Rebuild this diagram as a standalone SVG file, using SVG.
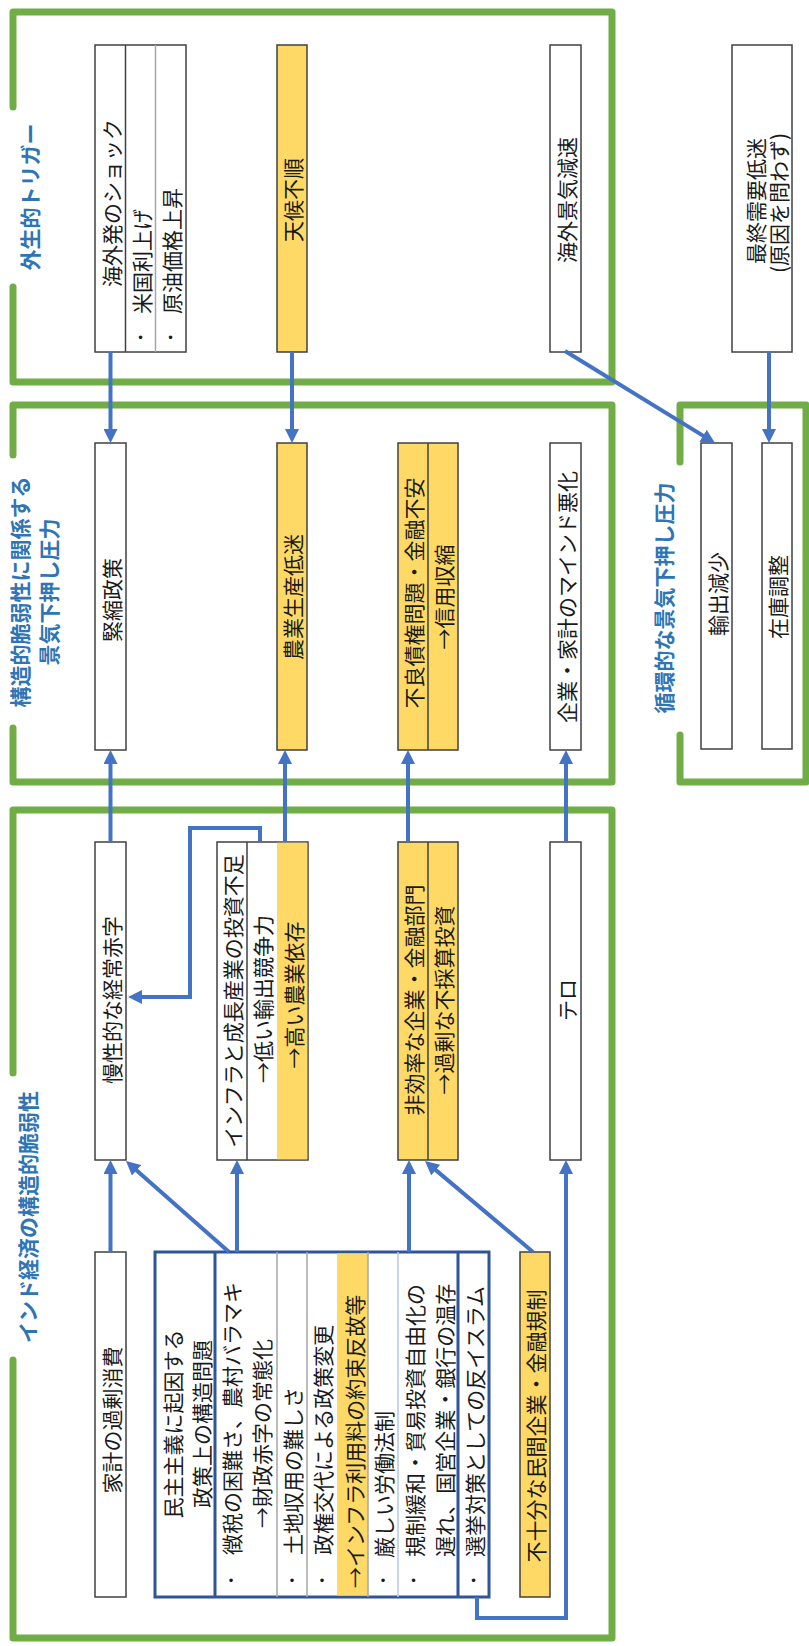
<svg xmlns="http://www.w3.org/2000/svg" width="809" height="1646" viewBox="0 0 809 1646">
<style>
.frame{fill:none;stroke:#70AD47;stroke-width:7;stroke-linejoin:round;stroke-linecap:round}
.lbl{font-family:"Noto Sans CJK JP","Noto Sans",sans-serif;font-size:21px;font-weight:bold;fill:#2E75B6;text-anchor:middle;dominant-baseline:central}
.t{font-family:"Noto Sans CJK JP","Noto Sans",sans-serif;font-size:21px;fill:#1a1a1a;text-anchor:middle;dominant-baseline:central}
.s{text-anchor:start}
.b{font-family:"Liberation Sans",sans-serif;font-size:13px;fill:#1a1a1a;text-anchor:middle;dominant-baseline:central}
.box{fill:#fff;stroke:#404040;stroke-width:1.5}
.yel{fill:#FFD966}
.dv{stroke:#404040;stroke-width:1.5}
.dg{stroke:#A6A6A6;stroke-width:1.5}
.db{stroke:#2F5597;stroke-width:3}
.dl{stroke:#B4C7E7;stroke-width:1.5}
.pbox{fill:#fff;stroke:#2F5597;stroke-width:3}
.c{fill:none;stroke:#4472C4;stroke-width:4}
.ca{fill:none;stroke:#4472C4;stroke-width:4;marker-end:url(#ah)}
</style>
<defs>
<marker id="ah" viewBox="0 0 14 14" refX="8" refY="7" markerWidth="14" markerHeight="14" orient="auto" markerUnits="userSpaceOnUse">
<path d="M0,0 L14,7 L0,14 z" fill="#4472C4"/>
</marker>
</defs>
<rect width="809" height="1646" fill="#fff"/>

<g id="frames">
<g id="frame-exogenous">
<path class="frame" d="M13,107 L13,12 L612,12 L612,382 L13,382 L13,287"/>
<text class="lbl" transform="translate(29,197) rotate(-90)">外生的トリガー</text>
</g>
<g id="frame-structural-pressure">
<path class="frame" d="M13,455 L13,405 L612,405 L612,782 L13,782 L13,728"/>
<text class="lbl" transform="translate(19,592) rotate(-90)">構造的脆弱性に関係する</text>
<text class="lbl" transform="translate(48,592) rotate(-90)">景気下押し圧力</text>
</g>
<g id="frame-india">
<path class="frame" d="M13,1073 L13,810 L612,810 L612,1638 L13,1638 L13,1360"/>
<text class="lbl" transform="translate(27,1217) rotate(-90)">インド経済の構造的脆弱性</text>
</g>
<g id="frame-cyclical">
<path class="frame" d="M680,462 L680,405 L806,405 L806,782 L680,782 L680,735"/>
<text class="lbl" transform="translate(663,598) rotate(-90)">循環的な景気下押し圧力</text>
</g>
</g>

<g id="n-overseas-shock">
<rect class="box" x="95" y="45" width="91" height="307"/>
<line class="dv" x1="125.5" y1="45" x2="125.5" y2="352"/>
<line class="dg" x1="155.5" y1="45" x2="155.5" y2="352"/>
<text class="t" transform="translate(110.5,203) rotate(-90)">海外発のショック</text>
<text class="b" x="140.5" y="337">•</text>
<text class="t s" transform="translate(140.5,314) rotate(-90)">米国利上げ</text>
<text class="b" x="170.5" y="337">•</text>
<text class="t s" transform="translate(170.5,314) rotate(-90)">原油価格上昇</text>
</g>
<g id="n-weather">
<rect class="box yel" x="277" y="45" width="30" height="307"/>
<text class="t" transform="translate(292,200) rotate(-90)">天候不順</text>
</g>
<g id="n-overseas-slowdown">
<rect class="box" x="550" y="45" width="31" height="307"/>
<text class="t" transform="translate(565.5,200) rotate(-90)">海外景気減速</text>
</g>
<g id="n-final-demand">
<rect class="box" x="732" y="45" width="60" height="307"/>
<text class="t" transform="translate(755,201) rotate(-90)">最終需要低迷</text>
<text class="t" transform="translate(778,203) rotate(-90)">(原因を問わず)</text>
</g>

<g id="n-tightening">
<rect class="box" x="95" y="443" width="31" height="307"/>
<text class="t" transform="translate(110.5,600) rotate(-90)">緊縮政策</text>
</g>
<g id="n-agri-slump">
<rect class="box yel" x="277" y="443" width="30" height="307"/>
<text class="t" transform="translate(292,597) rotate(-90)">農業生産低迷</text>
</g>
<g id="n-bad-debt">
<rect class="box yel" x="398" y="443" width="60" height="307"/>
<line class="dv" x1="428" y1="443" x2="428" y2="750"/>
<text class="t" transform="translate(413,593) rotate(-90)">不良債権問題・金融不安</text>
<text class="t" transform="translate(443,597) rotate(-90)">→信用収縮</text>
</g>
<g id="n-sentiment">
<rect class="box" x="550" y="443" width="31" height="307"/>
<text class="t" transform="translate(565.5,597) rotate(-90)">企業・家計のマインド悪化</text>
</g>

<g id="n-export-decline">
<rect class="box" x="701" y="443" width="31" height="306"/>
<text class="t" transform="translate(716.5,594) rotate(-90)">輸出減少</text>
</g>
<g id="n-inventory">
<rect class="box" x="762" y="443" width="30" height="306"/>
<text class="t" transform="translate(777,597) rotate(-90)">在庫調整</text>
</g>

<g id="n-current-deficit">
<rect class="box" x="95" y="842" width="31" height="318"/>
<text class="t" transform="translate(110.5,1000) rotate(-90)">慢性的な経常赤字</text>
</g>
<g id="n-infra">
<rect class="box" x="217" y="842" width="91" height="318"/>
<rect x="277" y="842.75" width="30.25" height="316.5" fill="#FFD966"/>
<line class="dv" x1="247" y1="842" x2="247" y2="1160"/>
<text class="t" transform="translate(232,1001) rotate(-90)">インフラと成長産業の投資不足</text>
<text class="t" transform="translate(262,999) rotate(-90)">→低い輸出競争力</text>
<text class="t" transform="translate(292.5,995) rotate(-90)">→高い農業依存</text>
</g>
<g id="n-inefficient">
<rect class="box yel" x="398" y="842" width="60" height="318"/>
<line class="dv" x1="428" y1="842" x2="428" y2="1160"/>
<text class="t" transform="translate(413,1000) rotate(-90)">非効率な企業・金融部門</text>
<text class="t" transform="translate(443,1000) rotate(-90)">→過剰な不採算投資</text>
</g>
<g id="n-terror">
<rect class="box" x="550" y="842" width="31" height="318"/>
<text class="t" transform="translate(565.5,1000) rotate(-90)">テロ</text>
</g>

<g id="n-household">
<rect class="box" x="95" y="1252" width="31" height="345"/>
<text class="t" transform="translate(110.5,1420) rotate(-90)">家計の過剰消費</text>
</g>
<g id="n-democracy">
<rect class="pbox" x="155" y="1252" width="334" height="345"/>
<rect x="337" y="1253.5" width="31" height="342" fill="#FFD966"/>
<line class="db" x1="215" y1="1252" x2="215" y2="1597"/>
<line class="dg" x1="277" y1="1252" x2="277" y2="1597"/>
<line class="dg" x1="307" y1="1252" x2="307" y2="1597"/>
<line class="dg" x1="368" y1="1252" x2="368" y2="1597"/>
<line class="dl" x1="398" y1="1252" x2="398" y2="1597"/>
<line class="db" x1="458" y1="1252" x2="458" y2="1597"/>
<text class="t" transform="translate(171.5,1424) rotate(-90)">民主主義に起因する</text>
<text class="t" transform="translate(200.5,1424) rotate(-90)">政策上の構造問題</text>
<text class="b" x="231" y="1580">•</text>
<text class="t s" transform="translate(231,1555) rotate(-90)">徴税の困難さ、農村バラマキ</text>
<text class="t s" transform="translate(260.5,1528) rotate(-90)">→財政赤字の常態化</text>
<text class="b" x="292" y="1580">•</text>
<text class="t s" transform="translate(292,1555) rotate(-90)">土地収用の難しさ</text>
<text class="b" x="322" y="1580">•</text>
<text class="t s" transform="translate(322,1555) rotate(-90)">政権交代による政策変更</text>
<text class="t s" transform="translate(354,1588) rotate(-90)">→インフラ利用料の約束反故等</text>
<text class="b" x="383" y="1580">•</text>
<text class="t s" transform="translate(383,1558) rotate(-90)">厳しい労働法制</text>
<text class="b" x="413.5" y="1580">•</text>
<text class="t s" transform="translate(413.5,1557) rotate(-90)">規制緩和・貿易投資自由化の</text>
<text class="t s" transform="translate(443.5,1557) rotate(-90)">遅れ、国営企業・銀行の温存</text>
<text class="b" x="473.5" y="1580">•</text>
<text class="t s" transform="translate(473.5,1557) rotate(-90)">選挙対策としての反イスラム</text>
</g>
<g id="n-private-sector">
<rect class="box yel" x="520" y="1252" width="30" height="345"/>
<text class="t" transform="translate(535,1426) rotate(-90)">不十分な民間企業・金融規制</text>
</g>

<g id="connectors">
<line class="ca" x1="110.5" y1="352" x2="110.5" y2="437"/>
<line class="ca" x1="292" y1="352" x2="292" y2="437"/>
<line class="ca" x1="565" y1="351" x2="709.9" y2="439.9"/>
<line class="ca" x1="769" y1="352" x2="769" y2="437"/>
<line class="ca" x1="110.5" y1="842" x2="110.5" y2="756"/>
<line class="ca" x1="285" y1="842" x2="285" y2="756"/>
<line class="ca" x1="408" y1="842" x2="408" y2="756"/>
<line class="ca" x1="566" y1="842" x2="566" y2="756"/>
<polyline class="ca" points="260,842 260,828 190,828 190,997 134,997"/>
<line class="ca" x1="110.5" y1="1252" x2="110.5" y2="1166"/>
<line class="ca" x1="229" y1="1252" x2="130.5" y2="1165"/>
<line class="ca" x1="237" y1="1252" x2="237" y2="1166"/>
<line class="ca" x1="409" y1="1252" x2="409" y2="1166"/>
<line class="ca" x1="533" y1="1252" x2="429.6" y2="1164.9"/>
<polyline class="ca" points="477,1597 477,1618 566,1618 566,1166"/>
</g>
</svg>
